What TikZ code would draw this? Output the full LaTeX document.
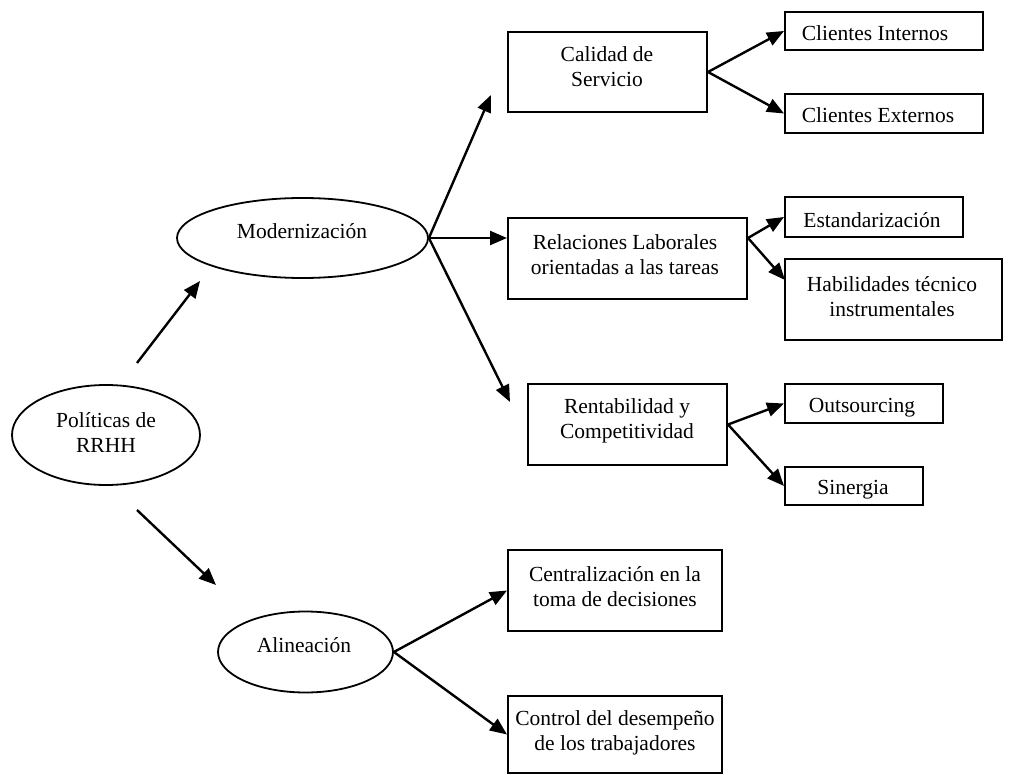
\documentclass[tikz,border=0pt]{standalone}
\usepackage{fontspec}
\setmainfont{Liberation Serif}
\usetikzlibrary{arrows.meta,shapes.geometric}
\begin{document}
\begin{tikzpicture}[x=1pt,y=-1pt,
  box/.style={draw, line width=2pt, inner sep=0pt},
  oval/.style={draw, ellipse, line width=1.8pt, inner sep=0pt},
  txt/.style={align=center, font=\fontsize{21.5}{25}\selectfont, inner sep=0pt},
  arr/.style={line width=2.4pt, -{Triangle[length=17pt,width=14pt]}}]
\useasboundingbox (0,0) rectangle (1030,775);

% ellipses
\node[oval, minimum width=188pt, minimum height=100pt] (pol) at (106,435) {};
\node[txt] (tpol) at (106,433) {Políticas de\\RRHH};
\node[oval, minimum width=251pt, minimum height=80pt] (mod) at (302.5,238) {};
\node[txt] (tmod) at (302,231) {Modernización};
\node[oval, minimum width=175pt, minimum height=81pt] (ali) at (305.5,652) {};
\node[txt] (tali) at (304,645) {Alineación};

% boxes
\node[box, minimum width=199pt, minimum height=80pt] (cal) at (607.5,72) {};
\node[txt] (tcal) at (607,67) {Calidad de\\Servicio};
\node[box, minimum width=198pt, minimum height=38pt] (ci) at (884,31) {};
\node[txt] (tci) at (875,33) {Clientes Internos};
\node[box, minimum width=198pt, minimum height=39pt] (ce) at (884,113.5) {};
\node[txt] (tce) at (878,115) {Clientes Externos};

\node[box, minimum width=239pt, minimum height=81pt] (rel) at (627.5,258.5) {};
\node[txt] (trel) at (625,255) {Relaciones Laborales\\orientadas a las tareas};
\node[box, minimum width=178pt, minimum height=40pt] (est) at (874,217) {};
\node[txt] (test) at (872,220) {Estandarización};
\node[box, minimum width=217pt, minimum height=81pt] (hab) at (893.5,299.5) {};
\node[txt] (thab) at (892,297) {Habilidades técnico\\instrumentales};

\node[box, minimum width=199pt, minimum height=81pt] (ren) at (627.5,424.5) {};
\node[txt] (tren) at (627,421) {Rentabilidad y\\Competitividad};
\node[box, minimum width=158pt, minimum height=39pt] (out) at (864,403.5) {};
\node[txt] (tout) at (862,408) {Outsourcing};
\node[box, minimum width=138pt, minimum height=38pt] (sin) at (854,486) {};
\node[txt] (tsin) at (853,490) {Sinergia};

\node[box, minimum width=214pt, minimum height=81pt] (cen) at (615,590.5) {};
\node[txt] (tcen) at (615,587) {Centralización en la\\toma de decisiones};
\node[box, minimum width=214pt, minimum height=77pt] (con) at (615,734.5) {};
\node[txt] (tcon) at (615,733) {Control del desempeño\\de los trabajadores};

% free ends
\coordinate (p1) at (137,363);
\coordinate (m1) at (200,281);
\coordinate (p2) at (137,510);
\coordinate (a1) at (216,585);
\coordinate (c1) at (491,95);
\coordinate (r1) at (510,402);
\coordinate (h1) at (785,280);

% connectors
\draw[arr] (p1) -- (m1);
\draw[arr] (p2) -- (a1);
\draw[arr] (mod.east) -- (c1);
\draw[arr] (mod.east) -- (rel.west |- mod.east);
\draw[arr] (mod.east) -- (r1);
\draw[arr] (cal.east) -- (ci.west);
\draw[arr] (cal.east) -- (ce.west);
\draw[arr] (rel.east |- mod.east) -- (est.west);
\draw[arr] (rel.east |- mod.east) -- (h1);
\draw[arr] (ren.east) -- (out.west);
\draw[arr] (ren.east) -- (sin.west);
\draw[arr] (ali.east) -- (cen.west);
\draw[arr] (ali.east) -- (con.west);
\end{tikzpicture}
\end{document}
